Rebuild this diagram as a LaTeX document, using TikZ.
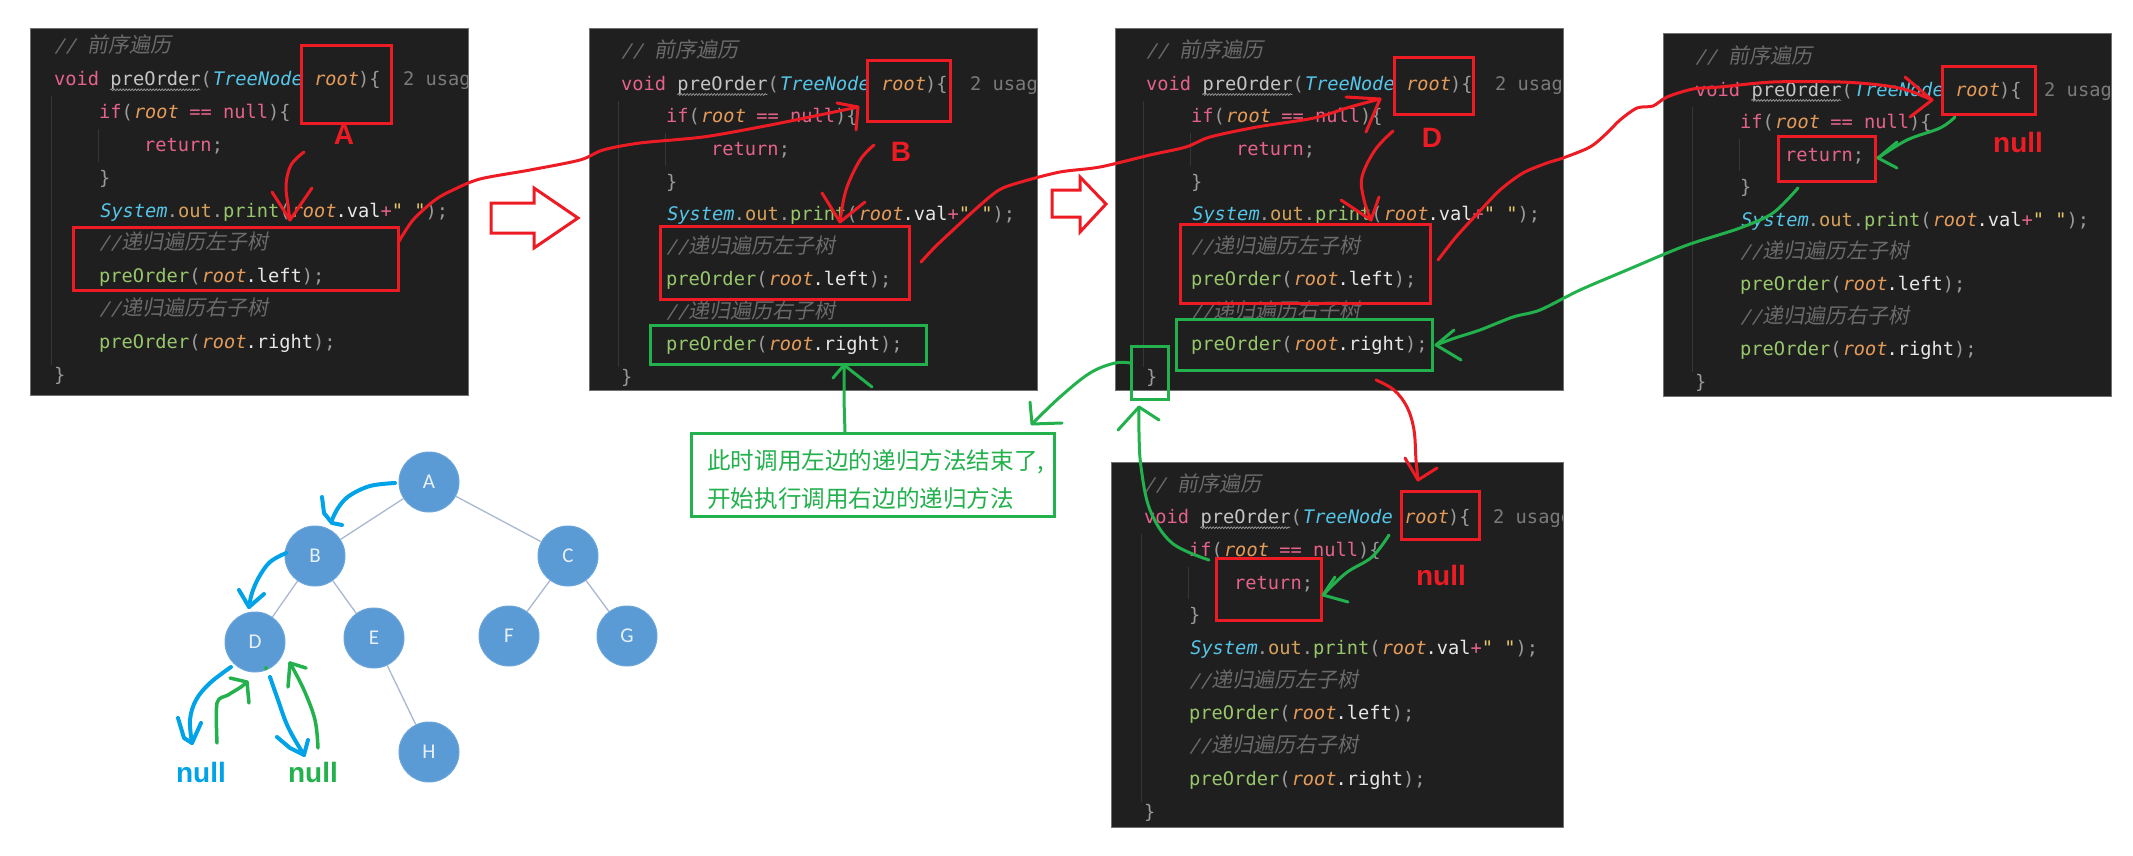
\documentclass[tikz,border=0pt]{standalone}
\usepackage{fontspec}
\setmainfont{Liberation Sans}
\newfontfamily\codefont{DejaVu Sans Mono}
\newfontfamily\codeit[FakeSlant=0.18]{DejaVu Sans Mono}
\newfontfamily\cjkit[FakeSlant=0.18]{Noto Sans CJK SC}
\newfontfamily\cjkfont{Noto Sans CJK SC}
\newfontfamily\treefont{Carlito}
\usetikzlibrary{decorations.pathmorphing}

\definecolor{codebg}{HTML}{1F1F1F}
\definecolor{panelline}{HTML}{707070}
\definecolor{guidec}{HTML}{363636}
\definecolor{cmt}{HTML}{6A6A6A}
\definecolor{kw}{HTML}{E5638A}
\definecolor{fn}{HTML}{C4C4C4}
\definecolor{pu}{HTML}{9A9A9A}
\definecolor{ty}{HTML}{55C4E6}
\definecolor{var}{HTML}{E49B5A}
\definecolor{us}{HTML}{7A7A7A}
\definecolor{cl}{HTML}{97C76A}
\definecolor{wh}{HTML}{E6E6E6}
\definecolor{st}{HTML}{E6C86A}
\definecolor{fl}{HTML}{D6A15A}
\definecolor{penred}{HTML}{ED1C24}
\definecolor{pengreen}{HTML}{22B14C}
\definecolor{penblue}{HTML}{00A2E8}
\definecolor{treeblue}{HTML}{5B9BD5}
\definecolor{treetext}{HTML}{E9F0F8}
\definecolor{treeedge}{HTML}{A9B8D0}

\newcommand\Ccm[1]{\textcolor{cmt}{\codeit #1}}
\newcommand\Ccj[1]{\textcolor{cmt}{\cjkit\fontsize{21}{22}\selectfont #1}}
\newcommand\Ckw[1]{\textcolor{kw}{#1}}
\newcommand\Cfn[1]{\textcolor{fn}{#1}}
\newcommand\Cpu[1]{\textcolor{pu}{#1}}
\newcommand\Cty[1]{\textcolor{ty}{\codeit #1}}
\newcommand\Cva[1]{\textcolor{var}{\codeit #1}}
\newcommand\Cus[1]{\textcolor{us}{#1}}
\newcommand\Ccl[1]{\textcolor{cl}{#1}}
\newcommand\Cwh[1]{\textcolor{wh}{#1}}
\newcommand\Cst[1]{\textcolor{st}{#1}}
\newcommand\Cfl[1]{\textcolor{fl}{#1}}

% #1 prefix, #2 left, #3 top, #4 right, #5 bottom, #6 text x, #7 first line y, #8 spacing
\newcommand\codepanel[8]{%
  \fill[codebg] (#2,#3) rectangle (#4,#5);
  \begin{scope}
    \clip (#2,#3) rectangle (#4,#5);
    \draw[guideline] ({#6-3},{#7+1.5*#8}) -- ({#6-3},{#7+9.7*#8});
    \draw[guideline] ({#6+44},{#7+2.5*#8}) -- ({#6+44},{#7+3.5*#8});
    \node[code] (#1l0) at (#6,{#7+6}) {\Ccm{// }\Ccj{前序遍历}};
    \node[code] (#1l1) at (#6,{#7+1*#8+6}) {\Ckw{void} \Cfn{preOrder}\Cpu{(}\Cty{TreeNode} \Cva{root}\Cpu{)\{}\ \ \Cus{2 usages}};
    \draw[wavy] ({#6+5*11.26},{#7+1*#8+10}) -- ({#6+13*11.26},{#7+1*#8+10});
    \node[code] (#1l2) at ({#6+45},{#7+2*#8+6}) {\Ckw{if}\Cpu{(}\Cva{root} \Ckw{==} \Ckw{null}\Cpu{)\{}};
    \node[code] (#1l3) at ({#6+90},{#7+3*#8+6}) {\Ckw{return}\Cpu{;}};
    \node[code] (#1l4) at ({#6+45},{#7+4*#8+6}) {\Cpu{\}}};
    \node[code] (#1l5) at ({#6+45},{#7+5*#8+6}) {\Cty{System}\Cpu{.}\Cfl{out}\Cpu{.}\Ccl{print}\Cpu{(}\Cva{root}\Cwh{.val}\Ckw{+}\Cst{" "}\Cpu{);}};
    \node[code] (#1l6) at ({#6+45},{#7+6*#8+6}) {\Ccm{//}\Ccj{递归遍历左子树}};
    \node[code] (#1l7) at ({#6+45},{#7+7*#8+6}) {\Ccl{preOrder}\Cpu{(}\Cva{root}\Cwh{.left}\Cpu{);}};
    \node[code] (#1l8) at ({#6+45},{#7+8*#8+6}) {\Ccm{//}\Ccj{递归遍历右子树}};
    \node[code] (#1l9) at ({#6+45},{#7+9*#8+6}) {\Ccl{preOrder}\Cpu{(}\Cva{root}\Cwh{.right}\Cpu{);}};
    \node[code] (#1l10) at (#6,{#7+10*#8+6}) {\Cpu{\}}};
  \end{scope}
  \draw[panelborder] (#2,#3) rectangle (#4,#5);
}

\begin{document}
\begin{tikzpicture}[x=1pt,y=-1pt,
  code/.style={anchor=base west, inner sep=0pt, font=\codefont\fontsize{18.7}{22}\selectfont},
  guideline/.style={draw=guidec, line width=1},
  wavy/.style={draw=pu, line width=0.7, decorate, decoration={snake, amplitude=0.9pt, segment length=3pt}},
  panelborder/.style={draw=panelline, line width=1},
  redbox/.style={draw=penred, line width=3, inner sep=0pt, anchor=north west},
  greenbox/.style={draw=pengreen, line width=3, inner sep=0pt, anchor=north west},
  redpen/.style={draw=penred, line width=3, line cap=round, line join=round},
  greenpen/.style={draw=pengreen, line width=3, line cap=round, line join=round},
  bluepen/.style={draw=penblue, line width=4, line cap=round, line join=round},
  tgreen/.style={draw=pengreen, line width=3.5, line cap=round, line join=round},
  biglabel/.style={inner sep=0pt, font=\bfseries\fontsize{28}{28}\selectfont},
  tnode/.style={circle, fill=treeblue, draw=treeblue!90!white, line width=1, minimum size=60, inner sep=0pt, text=treetext, font=\treefont\fontsize{21}{21}\selectfont},
  tedge/.style={draw=treeedge, line width=1.3},
  hollow/.style={draw=penred, line width=3, fill=white, line join=miter}
]
\fill[white] (0,0) rectangle (2133,856);
\useasboundingbox (0,0) rectangle (2133,856);

% ---------------- code panels ----------------
\codepanel{pa}{30}{29}{468}{395}{54}{47}{32.8}
\codepanel{pb}{589}{29}{1037}{390}{621}{52}{32.5}
\codepanel{pc}{1115}{29}{1563}{390}{1146}{52}{32.5}
\codepanel{pd}{1663}{34}{2111}{396}{1695}{58}{32.4}
\codepanel{pe}{1111}{462}{1563}{827}{1144}{485}{32.7}

% ---------------- boxes ----------------
\node[redbox, minimum width=90, minimum height=78] (aroot) at (300,44) {};
\node[redbox, minimum width=325, minimum height=63] (aleft) at (72,226) {};
\node[redbox, minimum width=83, minimum height=61] (broot) at (866,59) {};
\node[redbox, minimum width=249, minimum height=73] (bleft) at (659,225) {};
\node[greenbox, minimum width=276, minimum height=39] (bright) at (649,324) {};
\node[redbox, minimum width=79, minimum height=57] (droot) at (1393,56) {};
\node[redbox, minimum width=250, minimum height=79] (dleft) at (1179,223) {};
\node[greenbox, minimum width=256, minimum height=51] (dright) at (1175,318) {};
\node[greenbox, minimum width=37, minimum height=53] (dbrace) at (1130,345) {};
\node[redbox, minimum width=93, minimum height=48] (nroot) at (1941,65) {};
\node[redbox, minimum width=97, minimum height=45] (nret) at (1777,135) {};
\node[redbox, minimum width=78, minimum height=48] (mroot) at (1400,490) {};
\node[redbox, minimum width=105, minimum height=62] (mret) at (1215,557) {};

% ---------------- labels ----------------
\node[biglabel, text=penred] (labA) at (344,135) {A};
\node[biglabel, text=penred] (labB) at (901,152) {B};
\node[biglabel, text=penred] (labD) at (1432,138) {D};
\node[biglabel, text=penred] (labN1) at (2018,142) {null};
\node[biglabel, text=penred] (labN2) at (1441,575) {null};

% ---------------- hollow arrows ----------------
\draw[hollow] (491,203) -- (534,203) -- (534,188) -- (578,218) -- (534,248) -- (534,233) -- (491,233) -- cycle;
\draw[hollow] (1052,190) -- (1080,190) -- (1080,177) -- (1106,204) -- (1080,232) -- (1080,217) -- (1052,217) -- cycle;

% ---------------- note box ----------------
\node[draw=pengreen, line width=3, fill=white, minimum width=363, minimum height=83, inner sep=0pt, anchor=north west] (note) at (690,432) {};
\node[anchor=base west, inner sep=0pt, text=pengreen, font=\cjkfont\fontsize{23.6}{26}\selectfont] (note1) at (707,469) {此时调用左边的递归方法结束了,};
\node[anchor=base west, inner sep=0pt, text=pengreen, font=\cjkfont\fontsize{23.6}{26}\selectfont] (note2) at (707,507) {开始执行调用右边的递归方法};

% ---------------- red hand-drawn arrows ----------------
\coordinate (ra0) at (304,152); \coordinate (rat) at (290,220);
\draw[redpen] plot[smooth, tension=0.6] coordinates {(ra0) (291,165) (286,185) (288,205) (rat)};
\draw[redpen] (272,192) -- (rat) -- (312,188);

\coordinate (rb0) at (874,145); \coordinate (rbt) at (840,222);
\draw[redpen] plot[smooth, tension=0.6] coordinates {(rb0) (860,160) (846,190) (rbt)};
\draw[redpen] (822,193) -- (rbt) -- (865,202);

\coordinate (rd0) at (1393,131); \coordinate (rdt) at (1371,220);
\draw[redpen] plot[smooth, tension=0.6] coordinates {(rd0) (1375,150) (1362,177) (1364,200) (rdt)};
\draw[redpen] (1341,200) -- (rdt) -- (1379,197);

\coordinate (c1s) at (398,243); \coordinate (c1t) at (858,107);
\draw[redpen] plot[smooth, tension=0.5] coordinates {(c1s) (413,220) (435,200) (453,190) (480,179) (530,170) (580,160) (603,150) (640,143) (703,137) (760,127) (810,117) (c1t)};
\draw[redpen] (837,103) -- (c1t) -- (856,130);

\coordinate (c2s) at (921,262); \coordinate (c2t) at (1380,99);
\draw[redpen] plot[smooth, tension=0.5] coordinates {(c2s) (935,247) (953,230) (978,207) (999,190) (1021,182) (1060,172) (1100,167) (1150,155) (1186,147) (1210,137) (1257,127) (1314,118) (1350,107) (c2t)};
\draw[redpen] (1346,97) -- (c2t) -- (1366,132);

\coordinate (c3s) at (1438,260); \coordinate (c3t) at (1932,100);
\draw[redpen] plot[smooth, tension=0.5] coordinates {(c3s) (1456,237) (1478,213) (1500,190) (1523,173) (1547,163) (1563,158) (1590,147) (1607,133) (1620,120) (1637,108) (1653,106) (1667,97) (1693,89) (1720,87) (1773,82) (1840,82) (1880,85) (1907,90) (c3t)};
\draw[redpen] (1905,77) -- (c3t) -- (1910,117);

\coordinate (c4s) at (1376,380); \coordinate (c4t) at (1418,480);
\draw[redpen] plot[smooth, tension=0.6] coordinates {(c4s) (1394,390) (1407,407) (1414,430) (1416,460) (c4t)};
\draw[redpen] (1405,458) -- (c4t) -- (1437,468);

% ---------------- green hand-drawn arrows ----------------
\coordinate (g1s) at (1955,117); \coordinate (g1t) at (1878,158);
\draw[greenpen] plot[smooth, tension=0.6] coordinates {(g1s) (1940,128) (1907,140) (g1t)};
\draw[greenpen] (1897,142) -- (g1t) -- (1897,168);

\coordinate (g2s) at (1798,188); \coordinate (g2t) at (1436,345);
\draw[greenpen] plot[smooth, tension=0.5] coordinates {(g2s) (1773,213) (1740,228) (1693,243) (1667,253) (1627,270) (1580,290) (1540,310) (1513,317) (1480,330) (1455,338) (g2t)};
\draw[greenpen] (1454,330) -- (g2t) -- (1461,360);

\coordinate (g3s) at (1389,535); \coordinate (g3t) at (1323,595);
\draw[greenpen] plot[smooth, tension=0.6] coordinates {(g3s) (1372,557) (1346,573) (g3t)};
\draw[greenpen] (1335,577) -- (g3t) -- (1348,602);

\coordinate (g4s) at (1209,560); \coordinate (g4t) at (1139,407);
\draw[greenpen] plot[smooth, tension=0.6] coordinates {(g4s) (1172,543) (1150,510) (1141,467) (1139,433) (g4t)};
\draw[greenpen] (1118,430) -- (g4t) -- (1159,420);

\coordinate (g5s) at (1130,363); \coordinate (g5t) at (1032,424);
\draw[greenpen] plot[smooth, tension=0.6] coordinates {(g5s) (1115,363) (1090,373) (1060,397) (g5t)};
\draw[greenpen] (1030,402) -- (g5t) -- (1062,423);

\coordinate (g6s) at (845,432); \coordinate (g6t) at (844,365);
\draw[greenpen] (g6s) -- (844,400) -- (g6t);
\draw[greenpen] (833,378) -- (g6t) -- (872,387);

% ---------------- tree ----------------
\node[tnode] (tA) at (429,482) {A};
\node[tnode] (tB) at (315,556) {B};
\node[tnode] (tC) at (568,556) {C};
\node[tnode] (tD) at (255,642) {D};
\node[tnode] (tE) at (374,638) {E};
\node[tnode] (tF) at (509,636) {F};
\node[tnode] (tG) at (627,636) {G};
\node[tnode] (tH) at (429,752) {H};
\draw[tedge] (tA) -- (tB);
\draw[tedge] (tA) -- (tC);
\draw[tedge] (tB) -- (tD);
\draw[tedge] (tB) -- (tE);
\draw[tedge] (tC) -- (tF);
\draw[tedge] (tC) -- (tG);
\draw[tedge] (tE) -- (tH);

\node[biglabel, text=penblue] (nullL) at (201,772) {null};
\node[biglabel, text=pengreen] (nullR) at (313,772) {null};

\draw[bluepen] plot[smooth, tension=0.6] coordinates {(395,483) (370,486) (349,496) (338,508) (332,520)};
\draw[bluepen] (322,497) -- (324,513) -- (332,523) -- (342,525);
\draw[bluepen] plot[smooth, tension=0.6] coordinates {(286,553) (270,562) (259,577) (252,593) (249,607)};
\draw[bluepen] (239,590) -- (249,607) -- (264,594);
\draw[bluepen] plot[smooth, tension=0.6] coordinates {(231,667) (210,683) (196,700) (190,720) (192,743)};
\draw[bluepen] (178,718) -- (184,738) -- (192,743) -- (201,723);
\draw[bluepen] plot[smooth, tension=0.6] coordinates {(270,677) (277,697) (288,727) (304,755)};
\draw[bluepen] (277,737) -- (290,748) -- (304,755) -- (308,740);
\draw[tgreen] plot[smooth, tension=0.5] coordinates {(217,743) (217,703) (228,695) (241,687) (247,682)};
\draw[tgreen] (230,678) -- (247,682) -- (249,703);
\draw[tgreen] plot[smooth, tension=0.6] coordinates {(318,748) (315,720) (304,690) (290,663)};
\draw[tgreen] (288,687) -- (290,663) -- (306,668);
\fill[pengreen] (266,668) circle (2);
\end{tikzpicture}
\end{document}
